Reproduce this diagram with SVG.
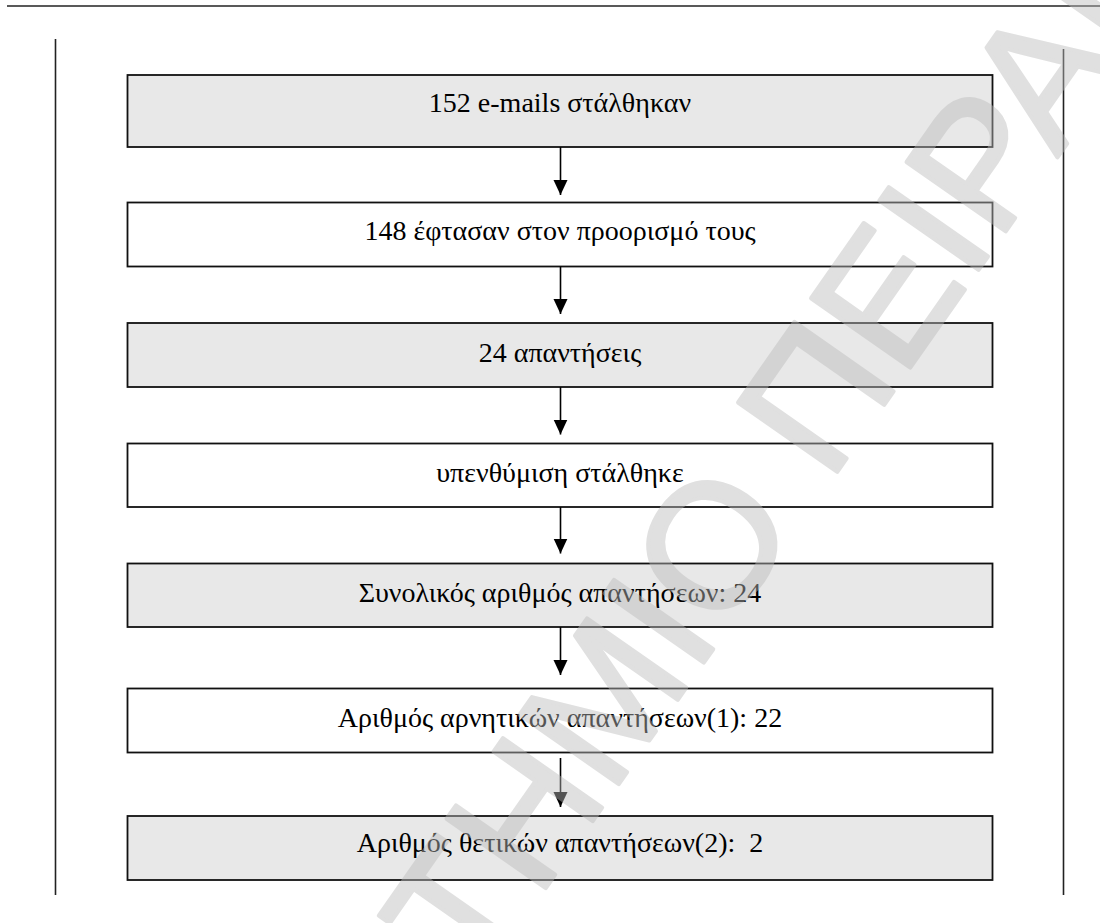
<svg xmlns="http://www.w3.org/2000/svg" width="1100" height="923" viewBox="0 0 1100 923">
<style>
.box{stroke:#111;stroke-width:1.8}
.g{fill:#e8e8e8}
.w{fill:#ffffff}
.t{font-family:"Liberation Serif","Times New Roman",serif;font-size:28px;fill:#000;text-anchor:middle;white-space:pre}
.rule{stroke:#222;stroke-width:1.6;fill:none}
.conn{stroke:#000;stroke-width:1.6;fill:none}
.wm{font-family:"Liberation Sans",Arial,sans-serif;font-size:176px;fill:#bbbbbb;stroke:#bbbbbb;stroke-width:4;stroke-linejoin:round}
</style>
<defs>
<marker id="ah" markerUnits="userSpaceOnUse" markerWidth="16" markerHeight="16" viewBox="0 0 16 16" refX="15" refY="8" orient="auto">
<path d="M0,1 L15,8 L0,15 Z" fill="#000"/>
</marker>
</defs>
<g id="frame">
<line class="rule" x1="7" y1="6" x2="1100" y2="6"/>
<line class="rule" x1="55.5" y1="39" x2="55.5" y2="895"/>
<line class="rule" x1="1063.5" y1="49" x2="1063.5" y2="895"/>
</g>
<g id="n1"><rect class="box g" x="127.5" y="75" width="865" height="72"/><text class="t" x="560" y="112">152 e-mails στάλθηκαν</text></g>
<g id="n2"><rect class="box w" x="127.5" y="202.5" width="865" height="64"/><text class="t" x="560" y="239.5">148 έφτασαν στον προορισμό τους</text></g>
<g id="n3"><rect class="box g" x="127.5" y="323" width="865" height="64"/><text class="t" x="560" y="361.5">24 απαντήσεις</text></g>
<g id="n4"><rect class="box w" x="127.5" y="443.5" width="865" height="63.5"/><text class="t" x="560" y="482">υπενθύμιση στάλθηκε</text></g>
<g id="n5"><rect class="box g" x="127.5" y="563.5" width="865" height="63.5"/><text class="t" x="560" y="602">Συνολικός αριθμός απαντήσεων: 24</text></g>
<g id="n6"><rect class="box w" x="127.5" y="688.5" width="865" height="64"/><text class="t" x="560" y="727">Αριθμός αρνητικών απαντήσεων(1): 22</text></g>
<g id="n7"><rect class="box g" x="127.5" y="816" width="865" height="64"/><text class="t" x="560" y="852" xml:space="preserve">Αριθμός θετικών απαντήσεων(2):  2</text></g>
<g id="connectors">
<line class="conn" x1="560.5" y1="147" x2="560.5" y2="195" marker-end="url(#ah)"/>
<line class="conn" x1="560.5" y1="266.5" x2="560.5" y2="314" marker-end="url(#ah)"/>
<line class="conn" x1="560.5" y1="387" x2="560.5" y2="434.5" marker-end="url(#ah)"/>
<line class="conn" x1="560.5" y1="507" x2="560.5" y2="553.5" marker-end="url(#ah)"/>
<line class="conn" x1="560.5" y1="627" x2="560.5" y2="675" marker-end="url(#ah)"/>
<line class="conn" x1="560.5" y1="758" x2="560.5" y2="807" marker-end="url(#ah)"/>
</g>
<g id="watermark" opacity="0.45">
<text class="wm" transform="translate(32,1622) rotate(-55)" x="0" y="0">ΠΑΝΕΠΙΣΤΗΜΙΟ ΠΕΙΡΑΙΩΣ</text>
</g>
</svg>
